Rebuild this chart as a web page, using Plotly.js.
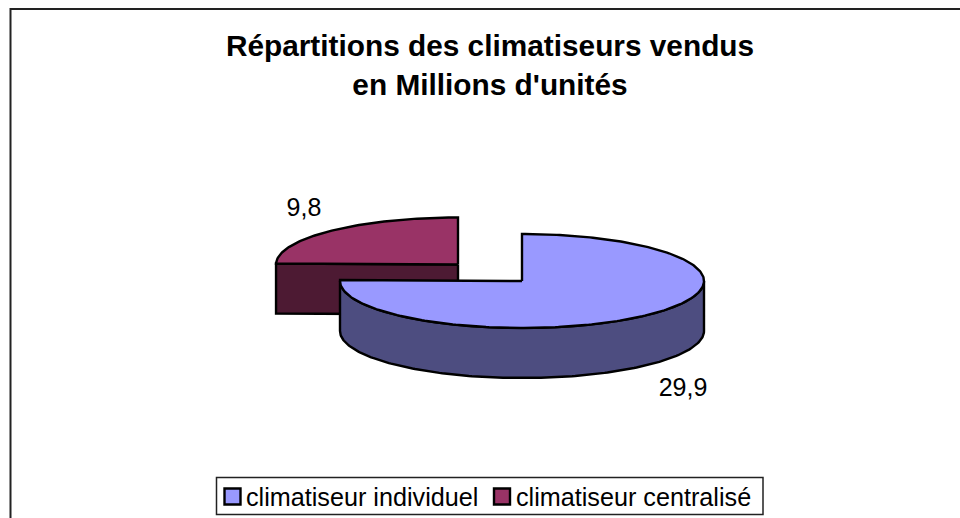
<!DOCTYPE html>
<html lang="fr">
<head>
<meta charset="utf-8">
<script src="https://cdn.plot.ly/plotly-3.0.1.min.js"></script>
<style>html,body{margin:0;padding:0;background:#fff}#chart{width:960px;height:518px}</style>
</head>
<body>
<div id="chart"></div>
<script>
var categories = ["climatiseur individuel", "climatiseur centralisé"];
var values = [29.9, 9.8];
var topColors = ["#9999FF", "#993366"];
var sideColors = ["#4D4D80", "#4D1A33"];
var centersX = [522, 458];
var centersY = [281, 264.5];
var labelX = [683, 304];
var labelY = [390, 210];
var legendSwatchX = [232.5, 502];
var legendTextX = [246, 516];
var legendSwatchY = 496.5;
var legendTextY = 499.5;
var radiusX = 182, radiusY = 47, depth = 50;
var FONT = "Liberation Sans, Arial, sans-serif";

var total = values[0] + values[1];
function pt(i, deg, dy) {
  var a = deg * Math.PI / 180;
  return [centersX[i] + radiusX * Math.sin(a), centersY[i] - radiusY * Math.cos(a) + (dy || 0)];
}
function poly(list, color, lw) {
  return {type: "scatter", mode: "lines", x: list.map(function (p) { return p[0]; }), y: list.map(function (p) { return p[1]; }),
    fill: "toself", fillcolor: color, line: {color: "#000", width: lw, shape: "linear"}, hoverinfo: "skip", showlegend: false, cliponaxis: false};
}
function arc(i, a0, a1, dy) {
  var out = [], n = Math.max(2, Math.ceil(Math.abs(a1 - a0)));
  for (var k = 0; k <= n; k++) out.push(pt(i, a0 + (a1 - a0) * k / n, dy));
  return out;
}
function sectorTop(i, a0, a1, color) {
  var c = [centersX[i], centersY[i]];
  return poly([c].concat(arc(i, a0, a1)).concat([c]), color, 2.4);
}
var sweep0 = values[0] / total * 360;

var traces = [];
var r = pt(1, sweep0), c1 = [centersX[1], centersY[1]];
traces.push(poly([c1, r, [r[0], r[1] + depth], [c1[0], c1[1] + depth], c1], sideColors[1], 2.4));
traces.push(sectorTop(1, sweep0, 360, topColors[1]));
var wallEnd = Math.min(sweep0, 270);
var wall = arc(0, 90, wallEnd).concat(arc(0, wallEnd, 90, depth));
wall.push(wall[0]);
traces.push(poly(wall, sideColors[0], 2.4));
traces.push(sectorTop(0, 0, sweep0, topColors[0]));
// data labels
traces.push({type: "scatter", mode: "text", x: labelX, y: labelY,
  text: values.map(function (v) { return String(v).replace(".", ","); }),
  textposition: "middle center", textfont: {family: FONT, size: 25, color: "#000"}, hoverinfo: "skip", showlegend: false, cliponaxis: false});
// legend drawn inside its box
traces.push({type: "scatter", mode: "markers", x: legendSwatchX, y: [legendSwatchY, legendSwatchY],
  marker: {symbol: "square", size: 16, color: topColors, line: {color: "#000", width: 2.4}}, hoverinfo: "skip", showlegend: false, cliponaxis: false});
traces.push({type: "scatter", mode: "text", x: legendTextX, y: [legendTextY, legendTextY], text: categories,
  textposition: "middle right", textfont: {family: FONT, size: 25.2, color: "#000"}, hoverinfo: "skip", showlegend: false, cliponaxis: false});

var layout = {
  width: 960, height: 518, paper_bgcolor: "#fff", plot_bgcolor: "#fff", showlegend: false,
  margin: {l: 0, r: 0, t: 0, b: 0},
  title: {text: "Répartitions des climatiseurs vendus<br>en Millions d'unités",
    font: {family: FONT, size: 29.8, color: "#000", weight: 700},
    x: 490 / 960, xanchor: "center", xref: "paper", y: 1 - 56 / 518, yanchor: "middle", yref: "container"},
  xaxis: {range: [0, 960], visible: false, fixedrange: true},
  yaxis: {range: [518, 0], visible: false, fixedrange: true},
  shapes: [
    {type: "line", xref: "x", yref: "y", x0: 10.5, x1: 960, y0: 9, y1: 9, line: {color: "#222", width: 2}},
    {type: "line", xref: "x", yref: "y", x0: 10.5, x1: 10.5, y0: 8, y1: 518, line: {color: "#222", width: 2}},
    {type: "rect", xref: "x", yref: "y", x0: 216.5, x1: 763, y0: 477.5, y1: 514.5, fillcolor: "#fff", layer: "below", line: {color: "#222", width: 1.5}}
  ]
};
Plotly.newPlot("chart", traces, layout, {displayModeBar: false, staticPlot: true});
</script>
</body>
</html>
